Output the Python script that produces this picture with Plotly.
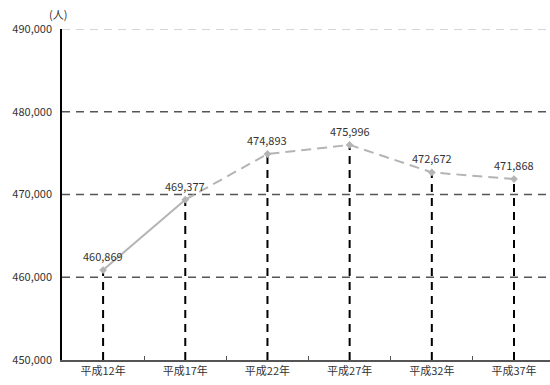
import plotly.graph_objects as go

# Population by census year (persons)
years = ["平成12年", "平成17年", "平成22年", "平成27年", "平成32年", "平成37年"]
population = [460869, 469377, 474893, 475996, 472672, 471868]
y_ticks = [450000, 460000, 470000, 480000, 490000]
y_tick_text = ["450,000", "460,000", "470,000", "480,000", "490,000"]

FONT = "Noto Sans CJK JP, Liberation Sans, sans-serif"
LINE_GREY = "#b4b4b4"

fig = go.Figure()

# Vertical drop lines from each point down to the base of the axis
drop_x, drop_y = [], []
for yr, v in zip(years, population):
    drop_x += [yr, yr, None]
    drop_y += [y_ticks[0], v, None]
fig.add_trace(go.Scatter(
    x=drop_x, y=drop_y, mode="lines",
    line=dict(color="#000000", width=2, dash="8px,6px"),
    hoverinfo="skip", showlegend=False,
))

# Observed segment (solid) and projected segment (dashed)
fig.add_trace(go.Scatter(
    x=years[:2], y=population[:2], mode="lines",
    line=dict(color=LINE_GREY, width=2),
    showlegend=False,
))
fig.add_trace(go.Scatter(
    x=years[1:], y=population[1:], mode="lines",
    line=dict(color=LINE_GREY, width=2, dash="10px,6px"),
    showlegend=False,
))
fig.add_trace(go.Scatter(
    x=years, y=population, mode="markers",
    marker=dict(symbol="diamond", size=6, color=LINE_GREY),
    showlegend=False,
))

# Value labels above the points
for yr, v in zip(years, population):
    fig.add_annotation(
        x=yr, y=v, text=f"{v:,}", showarrow=False,
        yanchor="bottom", yshift=4,
        font=dict(family=FONT, size=11, color="#333333"),
    )

# Horizontal dashed gridlines (top one lighter)
for val in y_ticks[1:]:
    fig.add_shape(
        type="line", xref="paper", yref="y",
        x0=0, x1=1, y0=val, y1=val, layer="below",
        line=dict(color="#c8c8c8" if val == y_ticks[-1] else "#555555",
                  width=1.3, dash="8px,6px"),
    )

# Unit label
fig.add_annotation(
    xref="paper", yref="paper", x=0, y=1, text="(人)", showarrow=False,
    xanchor="right", yanchor="bottom", xshift=7, yshift=5,
    font=dict(family=FONT, size=11, color="#333333"),
)

fig.update_layout(
    width=550, height=385,
    margin=dict(l=62, r=0, t=29, b=25),
    paper_bgcolor="white", plot_bgcolor="white",
    font=dict(family=FONT, size=11, color="#333333"),
    xaxis=dict(
        type="category", range=[-0.5, 5.438],
        tickson="boundaries", ticks="inside", ticklen=4, tickcolor="#555555",
        showgrid=False, showline=True, linecolor="#555555", linewidth=2,
        tickfont=dict(family=FONT, size=11, color="#333333"),
    ),
    yaxis=dict(
        range=[y_ticks[0], y_ticks[-1]],
        tickvals=y_ticks, ticktext=y_tick_text,
        showgrid=False, zeroline=False,
        showline=True, linecolor="#000000", linewidth=1.5,
        ticks="", ticklabelstandoff=6,
        tickfont=dict(family=FONT, size=11, color="#333333"),
    ),
)

fig.write_html("out.html")
